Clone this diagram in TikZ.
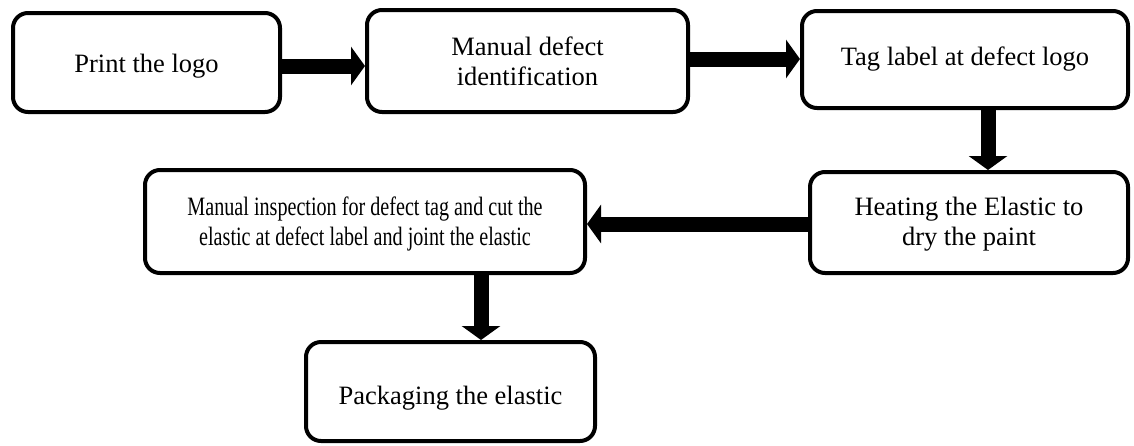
\documentclass[tikz,border=0pt]{standalone}
\usepackage{fontspec}
\setmainfont{Liberation Serif}
\usepackage{graphicx}
\usetikzlibrary{arrows.meta,calc}
\newcommand{\lowertext}[2]{\raisebox{-#1}[\height][\depth]{#2}}
\begin{document}
\begin{tikzpicture}[x=1pt,y=-1pt,
  box/.style={draw=black,line width=4pt,rounded corners=15pt,inner sep=0pt,
    align=center,font=\fontsize{26.5}{30}\selectfont,fill=white},
  flow/.style={line width=15pt,-{Triangle[length=14pt 0 0,width=38pt 0 0]}}]
\useasboundingbox (0,0) rectangle (1134,445);
\node[box,minimum width=267pt,minimum height=99pt] (b1) at (146.5,62.5) {\lowertext{4pt}{Print the logo}};
\node[box,minimum width=321pt,minimum height=102pt] (b2) at (527.5,61) {Manual defect\\identification};
\node[box,minimum width=326pt,minimum height=97pt] (b3) at (965,59.5) {Tag label at defect logo};
\node[box,minimum width=318pt,minimum height=101pt] (b4) at (969,222.5) {\lowertext{2pt}{\begin{tabular}{@{}c@{}}Heating the Elastic to\\dry the paint\end{tabular}}};
\node[box,minimum width=440pt,minimum height=103pt] (b5) at (365,221.5) {\lowertext{3pt}{\scalebox{0.76}[1]{\begin{tabular}{@{}c@{}}Manual inspection for defect tag and cut the\\elastic at defect label and joint the elastic\end{tabular}}}};
\node[box,minimum width=289pt,minimum height=99pt] (b6) at (450.5,391.5) {\lowertext{7pt}{Packaging the elastic}};
\draw[flow] ([yshift=-3.5pt]b1.east) -- ([yshift=-3.5pt]b1.east -| b2.west);
\draw[flow] ([yshift=2pt]b2.east) -- ([yshift=2pt]b2.east -| b3.west);
\draw[flow] ([xshift=23pt]b3.south) -- ([xshift=23pt]b3.south |- b4.north);
\draw[flow] ([yshift=-1.5pt]b4.west) -- ([yshift=-1.5pt]b4.west -| b5.east);
\draw[flow] ([xshift=116pt]b5.south) -- ([xshift=116pt]b5.south |- b6.north);
\end{tikzpicture}
\end{document}
